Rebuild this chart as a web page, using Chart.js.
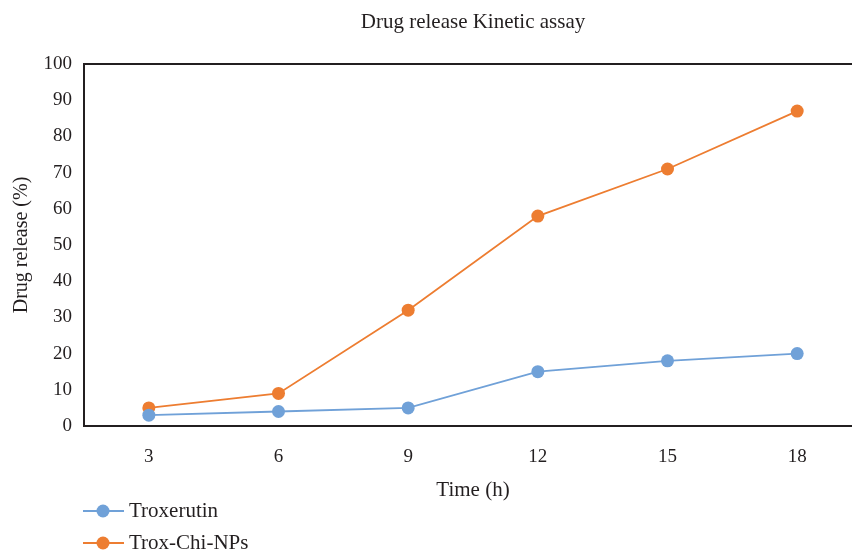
<!DOCTYPE html>
<html>
<head>
<meta charset="utf-8">
<script src="https://cdn.jsdelivr.net/npm/chart.js@4/dist/chart.umd.min.js"></script>
<style>
  html, body { margin: 0; padding: 0; background: #fff; overflow: hidden; }
  #wrap { width: 852px; height: 552px; overflow: hidden; }
</style>
</head>
<body>
<div id="wrap"><canvas id="releaseChart" width="944" height="552"></canvas></div>
<script>
// drug release, % over time (h)
const hours = ["3", "6", "9", "12", "15", "18"];
const troxerutin = [3, 4, 5, 15, 18, 20];
const troxChiNps = [5, 9, 32, 58, 71, 87];
const chartTitle = "Drug release Kinetic assay";

const FONT = "'Liberation Serif', 'Times New Roman', serif";
const INK = "#231f20";
const BLUE = "rgb(112, 161, 216)";
const ORANGE = "rgb(237, 125, 49)";

// box around the plot area + title centred over it
const frame = {
  id: "frame",
  afterDatasetsDraw(chart) {
    const { ctx, chartArea: a } = chart;
    ctx.save();
    ctx.strokeStyle = INK;
    ctx.lineWidth = 2;
    ctx.strokeRect(a.left, a.top, a.right - a.left, a.bottom - a.top);
    ctx.fillStyle = INK;
    ctx.font = "21px " + FONT;
    ctx.textAlign = "center";
    ctx.textBaseline = "middle";
    ctx.fillText(chartTitle, (a.left + a.right) / 2, 22);
    ctx.restore();
  },
};

// stacked legend in the lower-left corner
const stackedLegend = {
  id: "stackedLegend",
  afterDraw(chart) {
    const { ctx } = chart;
    ctx.save();
    chart.data.datasets.forEach((ds, i) => {
      const y = 511 + i * 32;
      ctx.strokeStyle = ds.borderColor;
      ctx.lineWidth = 2;
      ctx.beginPath();
      ctx.moveTo(83, y);
      ctx.lineTo(124, y);
      ctx.stroke();
      ctx.fillStyle = ds.backgroundColor;
      ctx.beginPath();
      ctx.arc(103, y, 6.5, 0, Math.PI * 2);
      ctx.fill();
      ctx.fillStyle = INK;
      ctx.font = "21px " + FONT;
      ctx.textBaseline = "middle";
      ctx.fillText(ds.label, 129, y);
    });
    ctx.restore();
  },
};

const buildConfig = () => ({
  type: "line",
  data: {
    labels: hours,
    datasets: [
      {
        label: "Troxerutin",
        data: troxerutin,
        borderColor: BLUE,
        backgroundColor: BLUE,
        borderWidth: 1.8,
        pointRadius: 6.5,
        pointBorderWidth: 0,
      },
      {
        label: "Trox-Chi-NPs",
        data: troxChiNps,
        borderColor: ORANGE,
        backgroundColor: ORANGE,
        borderWidth: 1.8,
        pointRadius: 6.5,
        pointBorderWidth: 0,
      },
    ],
  },
  options: {
    responsive: false,
    animation: false,
    layout: { padding: { left: 0, right: 82, top: 64, bottom: 48 } },
    plugins: {
      legend: { display: false },
      tooltip: { enabled: false },
      title: { display: false },
    },
    scales: {
      x: {
        offset: true,
        grid: { display: false, drawTicks: false },
        border: { display: false },
        ticks: { color: INK, font: { size: 19, family: FONT }, padding: 20 },
        title: {
          display: true,
          text: "Time (h)",
          color: INK,
          font: { size: 21, family: FONT },
          padding: { top: 0, bottom: 1 },
        },
        afterFit: (scale) => { scale.height = 78; },
      },
      y: {
        min: 0,
        max: 100,
        grid: { display: false, drawTicks: false },
        border: { display: false },
        ticks: { stepSize: 10, color: INK, font: { size: 19, family: FONT }, padding: 12 },
        title: {
          display: true,
          text: "Drug release (%)",
          color: INK,
          font: { size: 20, family: FONT },
          padding: { top: 10, bottom: 0 },
        },
        afterFit: (scale) => { scale.width = 84; },
      },
    },
  },
  plugins: [frame, stackedLegend],
});

new Chart(document.getElementById("releaseChart").getContext("2d"), buildConfig());
</script>
</body>
</html>
